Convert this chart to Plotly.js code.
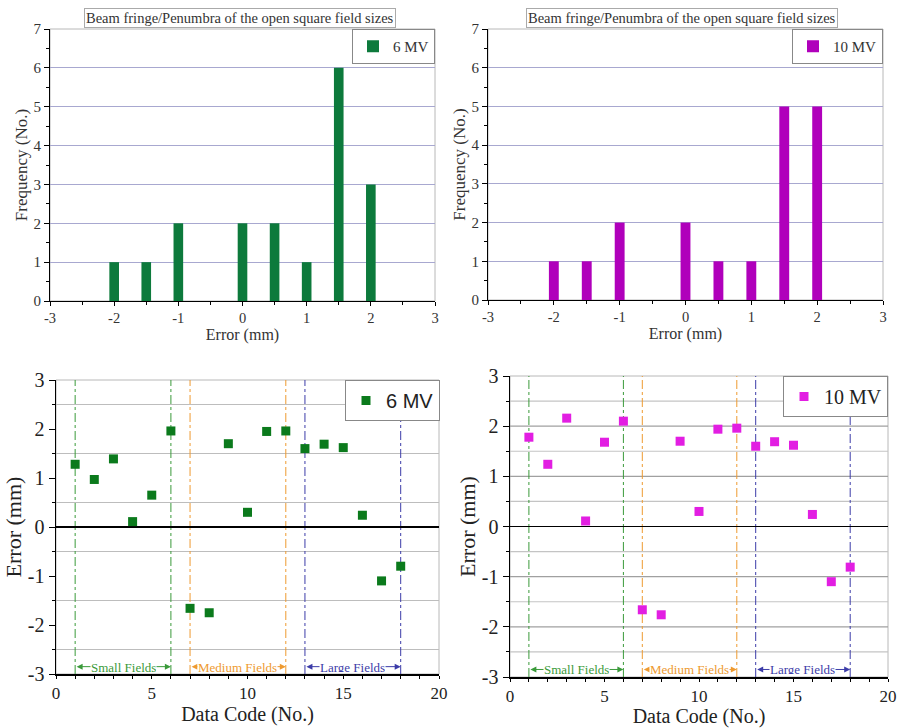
<!DOCTYPE html>
<html>
<head>
<meta charset="utf-8">
<script src="https://cdn.plot.ly/plotly-3.0.1.min.js"></script>
<style>
  html, body { margin: 0; padding: 0; background: #fff; }
  #chart { width: 899px; height: 728px; }
</style>
</head>
<body>
<div id="chart"></div>
<script>
// Histogram bins of the penumbra error (mm) and their frequencies
const errBins = [-2, -1.5, -1, 0, 0.5, 1, 1.5, 2];
const freq6MV = [1, 1, 2, 2, 2, 1, 6, 3];
const freq10MV = [1, 1, 2, 2, 1, 1, 5, 5];

// Per-field errors (mm) by data code
const dataCode = [1, 2, 3, 4, 5, 6, 7, 8, 9, 10, 11, 12, 13, 14, 15, 16, 17, 18];
const err6MV = [1.28, 0.97, 1.39, 0.11, 0.65, 1.96, -1.66, -1.75, 1.70, 0.30, 1.95, 1.96, 1.60, 1.69, 1.62, 0.24, -1.10, -0.80];
const err10MV = [1.78, 1.24, 2.16, 0.11, 1.68, 2.10, -1.66, -1.76, 1.70, 0.30, 1.94, 1.96, 1.60, 1.69, 1.62, 0.24, -1.10, -0.81];

// Field size groups (data code ranges)
const groupNames = ['Small Fields', 'Medium Fields', 'Large Fields'];
const groupStart = [1, 7, 13];
const groupEnd = [6, 12, 18];

// Axis tick values (labels use a plain hyphen for negatives)
const errTicks = [-3, -2, -1, 0, 1, 2, 3];
const freqTicks = [0, 1, 2, 3, 4, 5, 6, 7];
const codeTicks = [0, 5, 10, 15, 20];
// horizontal reference lines on the error-by-code panels
const halfGrid = [-2.5, -1.5, -0.5, 0.5, 1.5, 2.5];
const unitGrid = [-2, -1, 1, 2];

const histTitle = 'Beam fringe/Penumbra of the open square field sizes';

const SERIF = 'Liberation Serif';
const SANS = 'Liberation Sans';
const GREEN_BAR = '#0d7a3c';
const MAGENTA_BAR = '#b000bb';
const GREEN_PT = '#0b7a1c';
const MAGENTA_PT = '#e21ee2';
const groupColors = ['#3a9a3a', '#ee9a30', '#3c3ca8'];

const W = 899, H = 728;
const px = v => v / W;
const py = v => 1 - v / H;
const labels = arr => arr.map(v => String(v));

const traces = [
  { type: 'bar', x: errBins, y: freq6MV, width: 0.15, name: '6 MV',
    marker: { color: GREEN_BAR }, xaxis: 'x', yaxis: 'y', legend: 'legend' },
  { type: 'bar', x: errBins, y: freq10MV, width: 0.15, name: '10 MV',
    marker: { color: MAGENTA_BAR }, xaxis: 'x2', yaxis: 'y2', legend: 'legend2' },
  { type: 'scatter', mode: 'markers', x: dataCode, y: err6MV, name: '6 MV',
    marker: { symbol: 'square', size: 9, color: GREEN_PT }, xaxis: 'x3', yaxis: 'y3', legend: 'legend3' },
  { type: 'scatter', mode: 'markers', x: dataCode, y: err10MV, name: '10 MV',
    marker: { symbol: 'square', size: 9, color: MAGENTA_PT }, xaxis: 'x4', yaxis: 'y4', legend: 'legend4' }
];

function histX(dom, anchor) {
  return {
    domain: dom, anchor: anchor, range: [-3, 3],
    tickmode: 'array', tickvals: errTicks, ticktext: labels(errTicks),
    showgrid: false, zeroline: false, showline: true, linecolor: '#000', linewidth: 1,
    ticks: 'outside', ticklen: 4, tickcolor: '#000',
    minor: { dtick: 0.5, tick0: 0, ticks: 'outside', ticklen: 3, tickcolor: '#000' },
    tickfont: { family: SERIF, size: 14.5, color: '#333' },
    title: { text: 'Error (mm)', font: { family: SERIF, size: 16, color: '#333' }, standoff: 0 },
    fixedrange: true
  };
}
function histY(dom, anchor) {
  return {
    domain: dom, anchor: anchor, range: [0, 7],
    tickmode: 'array', tickvals: freqTicks, ticktext: labels(freqTicks),
    showgrid: true, gridcolor: '#a8a8d0', gridwidth: 1, zeroline: false,
    showline: true, linecolor: '#000', linewidth: 1,
    ticks: 'outside', ticklen: 5, tickcolor: '#000',
    minor: { dtick: 0.5, tick0: 0, ticks: 'outside', ticklen: 3, tickcolor: '#000' },
    tickfont: { family: SERIF, size: 15, color: '#333' },
    title: { text: 'Frequency (No.)', font: { family: SERIF, size: 17, color: '#333' }, standoff: 1 },
    fixedrange: true
  };
}
function codeX(dom, anchor) {
  return {
    domain: dom, anchor: anchor, range: [0, 20],
    tickmode: 'array', tickvals: codeTicks, ticktext: labels(codeTicks),
    showgrid: false, zeroline: false, showline: true, linecolor: '#000', linewidth: 1.5,
    ticks: 'outside', ticklen: 3, tickcolor: '#000',
    minor: { dtick: 1, tick0: 0, ticks: 'outside', ticklen: 3, tickcolor: '#000' },
    tickfont: { family: SERIF, size: 17, color: '#222' },
    title: { text: 'Data Code (No.)', font: { family: SERIF, size: 20, color: '#222' }, standoff: 2 },
    fixedrange: true
  };
}
function codeY(dom, anchor) {
  return {
    domain: dom, anchor: anchor, range: [-3, 3],
    tickmode: 'array', tickvals: errTicks, ticktext: labels(errTicks),
    showgrid: false,
    zeroline: true, zerolinecolor: '#000', zerolinewidth: 1.5,
    showline: true, linecolor: '#000', linewidth: 1.5,
    ticks: 'outside', ticklen: 6, tickcolor: '#000',
    minor: { dtick: 0.5, tick0: 0, ticks: 'outside', ticklen: 3, tickcolor: '#000' },
    tickfont: { family: SERIF, size: 20, color: '#222' },
    title: { text: 'Error (mm)', font: { family: SERIF, size: 22, color: '#222' }, standoff: 0 },
    fixedrange: true
  };
}

const shapes = [];
const annotations = [];

// light frame around every panel
[['x', 'y'], ['x2', 'y2'], ['x3', 'y3'], ['x4', 'y4']].forEach(([xa, ya]) => {
  shapes.push({ type: 'rect', xref: xa + ' domain', yref: ya + ' domain',
    x0: 0, x1: 1, y0: 0, y1: 1, line: { color: '#b8b8b8', width: 1 }, layer: 'below' });
});

// horizontal grid on the error-by-code panels (left: half steps only; right: every half step)
function hGrid(xa, ya, vals, color) {
  vals.forEach(v => shapes.push({ type: 'line', xref: xa + ' domain', yref: ya,
    x0: 0, x1: 1, y0: v, y1: v, line: { color: color, width: 1.2 }, layer: 'below' }));
}
hGrid('x3', 'y3', halfGrid, '#bdbdbd');
hGrid('x4', 'y4', halfGrid, '#c4c4c4');
hGrid('x4', 'y4', unitGrid, '#a0a0a0');

// titles boxed above the histograms
[px(240), px(682)].forEach(cx => {
  annotations.push({ xref: 'paper', yref: 'paper', x: cx, y: py(18),
    xanchor: 'center', yanchor: 'middle', showarrow: false, text: histTitle,
    font: { family: SERIF, size: 14.5, color: '#333' },
    bordercolor: '#aaa', borderwidth: 1, borderpad: 1, bgcolor: '#fff' });
});

// field-group boundaries and spans on the error-by-code panels
[['x3', 'y3'], ['x4', 'y4']].forEach(([xa, ya]) => {
  groupNames.forEach((g, i) => {
    const c = groupColors[i];
    [groupStart[i], groupEnd[i]].forEach(xv => {
      shapes.push({ type: 'line', xref: xa, yref: ya + ' domain', x0: xv, x1: xv, y0: 0, y1: 1,
        line: { color: c, width: 1, dash: 'dashdot' }, layer: 'below' });
    });
    annotations.push({ xref: xa, yref: ya, x: groupEnd[i], y: -2.85,
      axref: xa, ayref: ya, ax: groupStart[i], ay: -2.85, text: '',
      showarrow: true, arrowside: 'end+start', arrowhead: 2, arrowsize: 1.2, arrowwidth: 1,
      arrowcolor: c, standoff: 0, startstandoff: 0 });
    annotations.push({ xref: xa, yref: ya, x: (groupStart[i] + groupEnd[i]) / 2, y: -2.85,
      showarrow: false, text: g, xanchor: 'center', yanchor: 'middle', height: 10,
      font: { family: SERIF, size: 13, color: c }, bgcolor: '#fff', borderpad: 0 });
  });
});

function legendAt(xr, yt, font) {
  return { x: xr, y: yt, xanchor: 'right', yanchor: 'top', xref: 'paper', yref: 'paper',
    bgcolor: '#fff', bordercolor: '#888', borderwidth: 1, font: font,
    itemwidth: 30, tracegroupgap: 0 };
}

const layout = {
  width: W, height: H,
  margin: { l: 0, r: 0, t: 0, b: 0 },
  paper_bgcolor: '#fff', plot_bgcolor: '#fff',
  showlegend: true,
  xaxis: histX([px(50), px(435)], 'y'),
  yaxis: histY([py(301), py(29)], 'x'),
  xaxis2: histX([px(488), px(883)], 'y2'),
  yaxis2: histY([py(300), py(29)], 'x2'),
  xaxis3: codeX([px(56), px(439)], 'y3'),
  yaxis3: codeY([py(674), py(380)], 'x3'),
  xaxis4: codeX([px(510), px(888)], 'y4'),
  yaxis4: codeY([py(677), py(376)], 'x4'),
  legend: legendAt(px(435), py(29), { family: SERIF, size: 15, color: '#333' }),
  legend2: legendAt(px(883), py(29), { family: SERIF, size: 15, color: '#333' }),
  legend3: legendAt(px(440), py(380), { family: SANS, size: 20, color: '#222' }),
  legend4: legendAt(px(888), py(376), { family: SERIF, size: 20, color: '#222' }),
  shapes: shapes,
  annotations: annotations
};

Plotly.newPlot('chart', traces, layout, { displayModeBar: false, staticPlot: true });
</script>
</body>
</html>
